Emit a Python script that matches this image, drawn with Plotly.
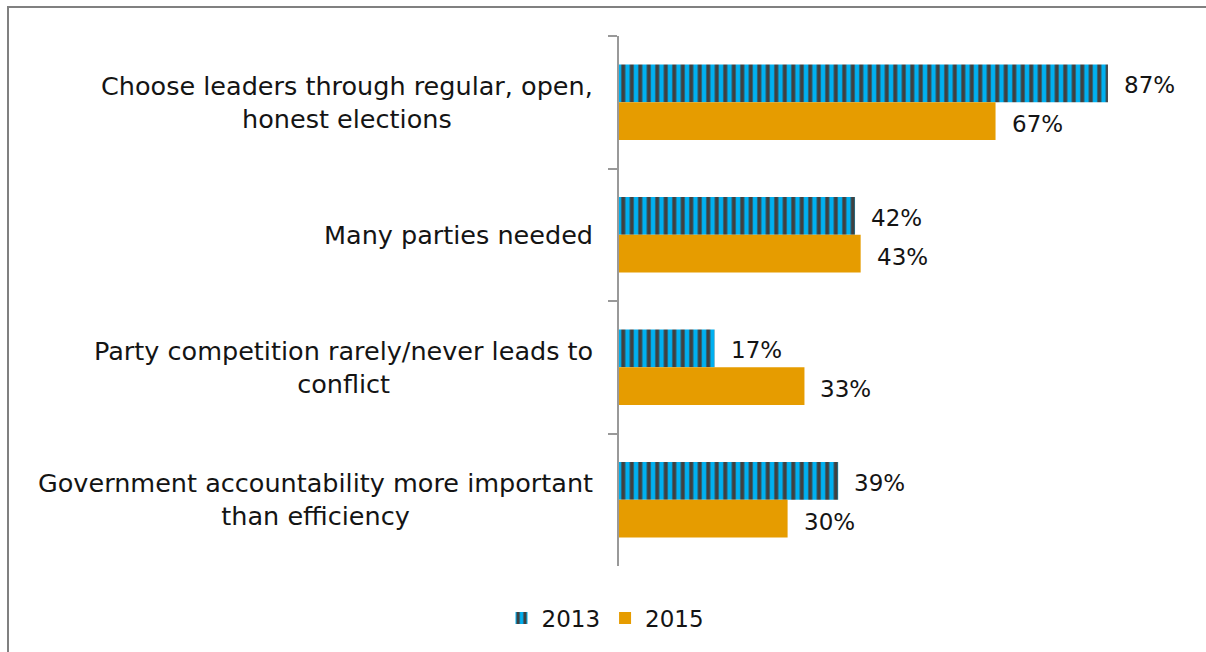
import plotly.graph_objects as go

categories = [
    "Choose leaders through regular, open,<br>honest elections",
    "Many parties needed",
    "Party competition rarely/never leads to<br>conflict",
    "Government accountability more important<br>than efficiency",
]
values_2013 = [87, 42, 17, 39]
values_2015 = [67, 43, 33, 30]
series_names = ["2013", "2015"]

FONT = "DejaVu Sans"
TEXT_COLOR = "#141414"
BLUE = "#00B0F0"
DARK = "#404040"
ORANGE = "#E69C00"
AXIS_GRAY = "#999999"

fig = go.Figure()
fig.add_trace(go.Bar(
    y=categories, x=values_2013, name=series_names[0], orientation="h",
    marker=dict(color=BLUE, line=dict(width=0),
                pattern=dict(shape="|", bgcolor=BLUE, fgcolor=DARK,
                             fillmode="replace", size=8.5, solidity=0.47)),
))
fig.add_trace(go.Bar(
    y=categories, x=values_2015, name=series_names[1], orientation="h",
    marker=dict(color=ORANGE, line=dict(width=0)),
))

annotations = []
# value labels to the right of each bar
for cat, v in zip(categories, values_2013):
    annotations.append(dict(x=v, y=cat, xref="x", yref="y", text=f"{v}%",
                            showarrow=False, xanchor="left", xshift=14, yshift=17,
                            font=dict(family=FONT, size=23, color=TEXT_COLOR)))
for cat, v in zip(categories, values_2015):
    annotations.append(dict(x=v, y=cat, xref="x", yref="y", text=f"{v}%",
                            showarrow=False, xanchor="left", xshift=14, yshift=-22,
                            font=dict(family=FONT, size=23, color=TEXT_COLOR)))
# category labels, centred lines, right edge near the axis
for cat in categories:
    annotations.append(dict(x=0, y=cat, xref="paper", yref="y", text=cat,
                            showarrow=False, xanchor="right", align="center",
                            xshift=-24, font=dict(family=FONT, size=25.5, color=TEXT_COLOR)))

fig.update_layout(
    width=1206, height=652,
    margin=dict(l=619, r=25, t=36, b=86),
    paper_bgcolor="white", plot_bgcolor="white",
    barmode="group", bargap=0.43, bargroupgap=0,
    font=dict(family=FONT, size=23, color=TEXT_COLOR),
    showlegend=True,
    legend=dict(orientation="h", x=-0.024, xanchor="center", y=-0.098, yanchor="middle",
                font=dict(family=FONT, size=23, color=TEXT_COLOR),
                itemwidth=30, tracegroupgap=0),
    annotations=annotations,
    shapes=[dict(type="rect", xref="paper", yref="paper",
                 x0=-619 / 562 + 8 / 562, x1=1.2, y0=-0.3, y1=1 + 29 / 530,
                 line=dict(color="#808080", width=2), layer="below")],
)
fig.update_xaxes(range=[0, 100], showgrid=False, zeroline=False, showticklabels=False,
                 showline=False, ticks="")
fig.update_yaxes(autorange="reversed", showgrid=False, zeroline=False,
                 showticklabels=False, showline=True, linecolor=AXIS_GRAY, linewidth=2,
                 ticks="outside", ticklen=9, tickwidth=2, tickcolor=AXIS_GRAY,
                 tickson="boundaries")

fig.write_html("out.html")
